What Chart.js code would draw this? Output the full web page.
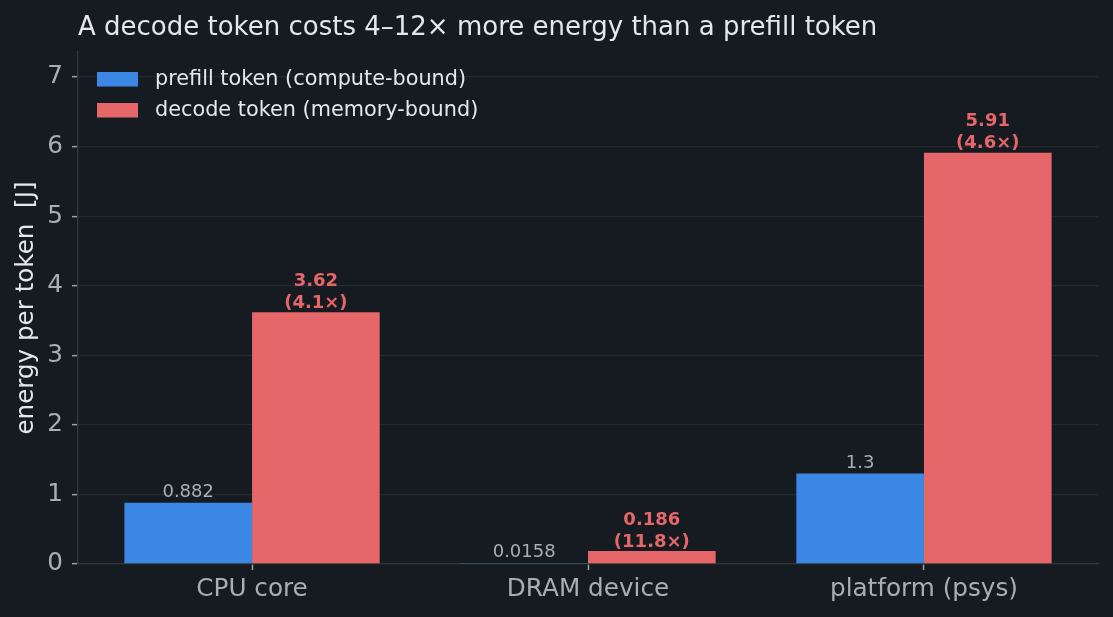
<!DOCTYPE html>
<html><head><meta charset="utf-8">
<script src="https://cdn.jsdelivr.net/npm/chart.js@4"></script>
<style>html,body{margin:0;padding:0;background:#161a21;overflow:hidden}canvas{display:block}</style>
</head><body>
<canvas id="c" width="1113" height="617"></canvas>
<script>
const categories = ["CPU core", "DRAM device", "platform (psys)"];
const prefillValues = [0.882, 0.0158, 1.3];
const decodeValues = [3.62, 0.186, 5.91];
const prefillLabels = ["0.882", "0.0158", "1.3"];
const decodeLabels = ["3.62", "0.186", "5.91"];
const ratioLabels = ["(4.1×)", "(11.8×)", "(4.6×)"];
const yTicks = [0, 1, 2, 3, 4, 5, 6, 7];
const seriesNames = ["prefill token (compute-bound)", "decode token (memory-bound)"];
const titleText = "A decode token costs 4–12× more energy than a prefill token";
const yTitle = "energy per token  [J]";

const FONT = "'DejaVu Sans', sans-serif";
const BG = "#161a21";
const BLUE = "#3a88e4";
const RED = "#e5676a";
const TEXT = "#e4e7ec";
const TICKTXT = "#a9aeb6";
const GRID = "#252a31";
const SPINE = "#33383f";
const TICKMARK = "#9aa0a8";

const plugin = {
  id: 'custom',
  beforeDraw(chart) {
    const ctx = chart.ctx;
    ctx.save();
    ctx.fillStyle = BG;
    ctx.fillRect(0, 0, chart.width, chart.height);
    ctx.restore();
  },
  afterDatasetsDraw(chart) {
    const ctx = chart.ctx;
    ctx.save();
    ctx.textAlign = 'center';
    ctx.textBaseline = 'alphabetic';
    const m0 = chart.getDatasetMeta(0);
    m0.data.forEach((el, i) => {
      ctx.font = "18px " + FONT;
      ctx.fillStyle = TICKTXT;
      ctx.fillText(prefillLabels[i], el.x, el.y - 5.5);
    });
    const m1 = chart.getDatasetMeta(1);
    m1.data.forEach((el, i) => {
      ctx.font = "bold 18px " + FONT;
      ctx.fillStyle = RED;
      ctx.fillText(ratioLabels[i], el.x, el.y - 4.5);
      ctx.fillText(decodeLabels[i], el.x, el.y - 26.5);
    });
    ctx.restore();
  },
  afterDraw(chart) {
    const ctx = chart.ctx;
    ctx.save();
    ctx.font = "26px " + FONT;
    ctx.fillStyle = TEXT;
    ctx.textAlign = 'left';
    ctx.textBaseline = 'alphabetic';
    ctx.fillText(titleText, chart.chartArea.left, 35);
    const cols = [BLUE, RED];
    const rowsY = [79, 110];
    ctx.font = "20.8px " + FONT;
    ctx.textBaseline = 'middle';
    seriesNames.forEach((n, i) => {
      ctx.fillStyle = cols[i];
      ctx.fillRect(97, rowsY[i] - 7, 41, 14.5);
      ctx.fillStyle = TEXT;
      ctx.fillText(n, 155, rowsY[i] + 1);
    });
    ctx.restore();
  }
};

new Chart(document.getElementById('c'), {
  type: 'bar',
  data: {
    datasets: [
      { label: seriesNames[0], data: prefillValues.map((v, i) => ({ x: i, y: v })), backgroundColor: BLUE, borderWidth: 0, categoryPercentage: 0.76, barPercentage: 1.0 },
      { label: seriesNames[1], data: decodeValues.map((v, i) => ({ x: i, y: v })), backgroundColor: RED, borderWidth: 0, categoryPercentage: 0.76, barPercentage: 1.0 }
    ]
  },
  options: {
    responsive: false,
    animation: false,
    layout: { padding: { top: 52, right: 15, left: 0, bottom: 0 } },
    plugins: { legend: { display: false }, tooltip: { enabled: false }, title: { display: false } },
    scales: {
      x: {
        type: 'linear',
        offset: false,
        min: -0.518, max: 2.518,
        afterBuildTicks: s => { s.ticks = categories.map((_, i) => ({ value: i })); },
        afterFit: s => { s.height = 53; },
        grid: { drawOnChartArea: false, tickLength: 6, tickColor: TICKMARK, tickWidth: 1.5, offset: false },
        border: { color: SPINE, width: 1.3 },
        ticks: { color: TICKTXT, font: { family: FONT, size: 24.7 }, padding: 5, maxRotation: 0, autoSkip: false,
          callback: v => categories[v] }
      },
      y: {
        min: 0, max: 7.36,
        afterBuildTicks: s => { s.ticks = yTicks.map(v => ({ value: v })); },
        afterFit: s => { s.width = 78; },
        grid: { color: GRID, lineWidth: 1.3, tickLength: 6, tickColor: TICKMARK, tickWidth: 1.5 },
        border: { color: SPINE, width: 1.3 },
        ticks: { color: TICKTXT, font: { family: FONT, size: 24.7 }, padding: 9, callback: v => String(v) },
        title: { display: true, text: yTitle, color: TEXT, font: { family: FONT, size: 24.6 }, padding: { top: 12, bottom: 0 } }
      }
    }
  },
  plugins: [plugin]
});
</script>
</body></html>
